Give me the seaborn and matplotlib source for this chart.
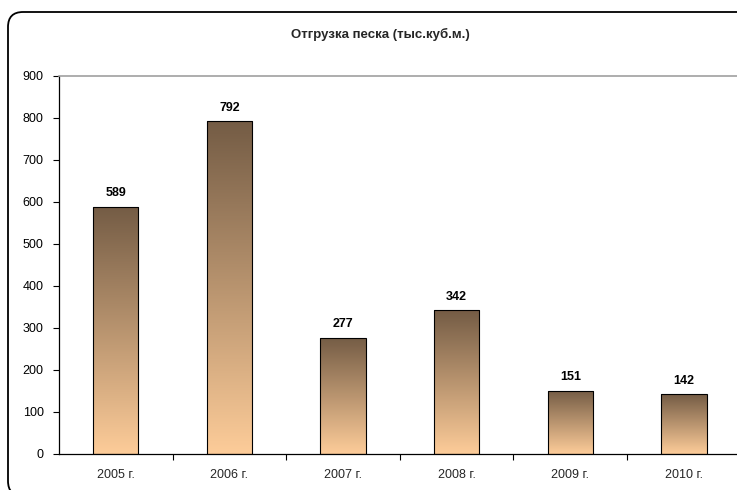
#!/usr/bin/env python3
"""Sand shipments by year, bar chart with vertical gradient fill."""

import matplotlib
matplotlib.use("Agg")
import matplotlib.pyplot as plt
from matplotlib.colors import LinearSegmentedColormap
from matplotlib.patches import FancyBboxPatch
import numpy as np
import pandas as pd
import seaborn as sns

years = ["2005 г.", "2006 г.", "2007 г.", "2008 г.", "2009 г.", "2010 г."]
shipments = [589, 792, 277, 342, 151, 142]
title = "Отгрузка песка (тыс.куб.м.)"

sns.set_theme(style="white")
plt.rcParams["font.family"] = ["Liberation Sans", "DejaVu Sans"]

fig = plt.figure(figsize=(7.37, 4.90), dpi=100)
ax = fig.add_axes([0.080, 0.0735, 0.925, 0.7715])

df = pd.DataFrame({"year": years, "value": shipments})
sns.barplot(data=df, x="year", y="value", ax=ax, width=0.4,
            color="#c9a27c", edgecolor="black", linewidth=0.8)

# gradient: dark brown at top of each bar, peach at its base
cmap = LinearSegmentedColormap.from_list("sand", ["#fdcc99", "#745c45"])
grad = np.linspace(0, 1, 256).reshape(-1, 1)
for bar in ax.patches:
    x0, y0 = bar.get_x(), bar.get_y()
    w, h = bar.get_width(), bar.get_height()
    img = ax.imshow(grad, cmap=cmap, origin="lower", aspect="auto",
                    extent=[x0, x0 + w, y0, y0 + h], zorder=bar.get_zorder())
    img.set_clip_path(bar)
    bar.set_facecolor("none")
    bar.set_zorder(bar.get_zorder() + 0.1)
ax.set_xlim(-0.5, len(years) - 0.5)
ax.set_ylim(0, 900)
ax.set_yticks(range(0, 901, 100))

for i, v in enumerate(shipments):
    ax.text(i, v + 18, str(v), ha="center", va="bottom",
            fontsize=9, fontweight="bold", color="black")

# axes styling
ax.spines["right"].set_visible(False)
for side in ["left", "bottom"]:
    ax.spines[side].set_color("black")
    ax.spines[side].set_linewidth(0.9)
ax.spines["top"].set_color("#a0a0a0")
ax.spines["top"].set_linewidth(1.2)

ax.set_xlabel("")
ax.set_ylabel("")
ax.tick_params(axis="y", left=True, length=4, width=0.8, colors="black",
               labelsize=9, pad=7)
ax.set_xticks(np.arange(len(years)))
ax.set_xticklabels(years)
ax.tick_params(axis="x", bottom=False, labelsize=9, pad=5)
ax.set_xticks(np.arange(len(years)) + 0.5, minor=True)
ax.tick_params(axis="x", which="minor", bottom=True, length=4, width=0.8,
               color="black")

fig.text(0.516, 0.929, title, ha="center", va="center",
         fontsize=9.5, fontweight="bold")

# rounded chart frame in pixels (cropped at right and bottom)
frame = FancyBboxPatch((8, -6), 1000, 490 - 12 + 6,
                       boxstyle="round,pad=0,rounding_size=15",
                       transform=None, fill=False,
                       edgecolor="black", linewidth=1.3, clip_on=False)
fig.patches.append(frame)

fig.savefig("out.png", dpi=100)
